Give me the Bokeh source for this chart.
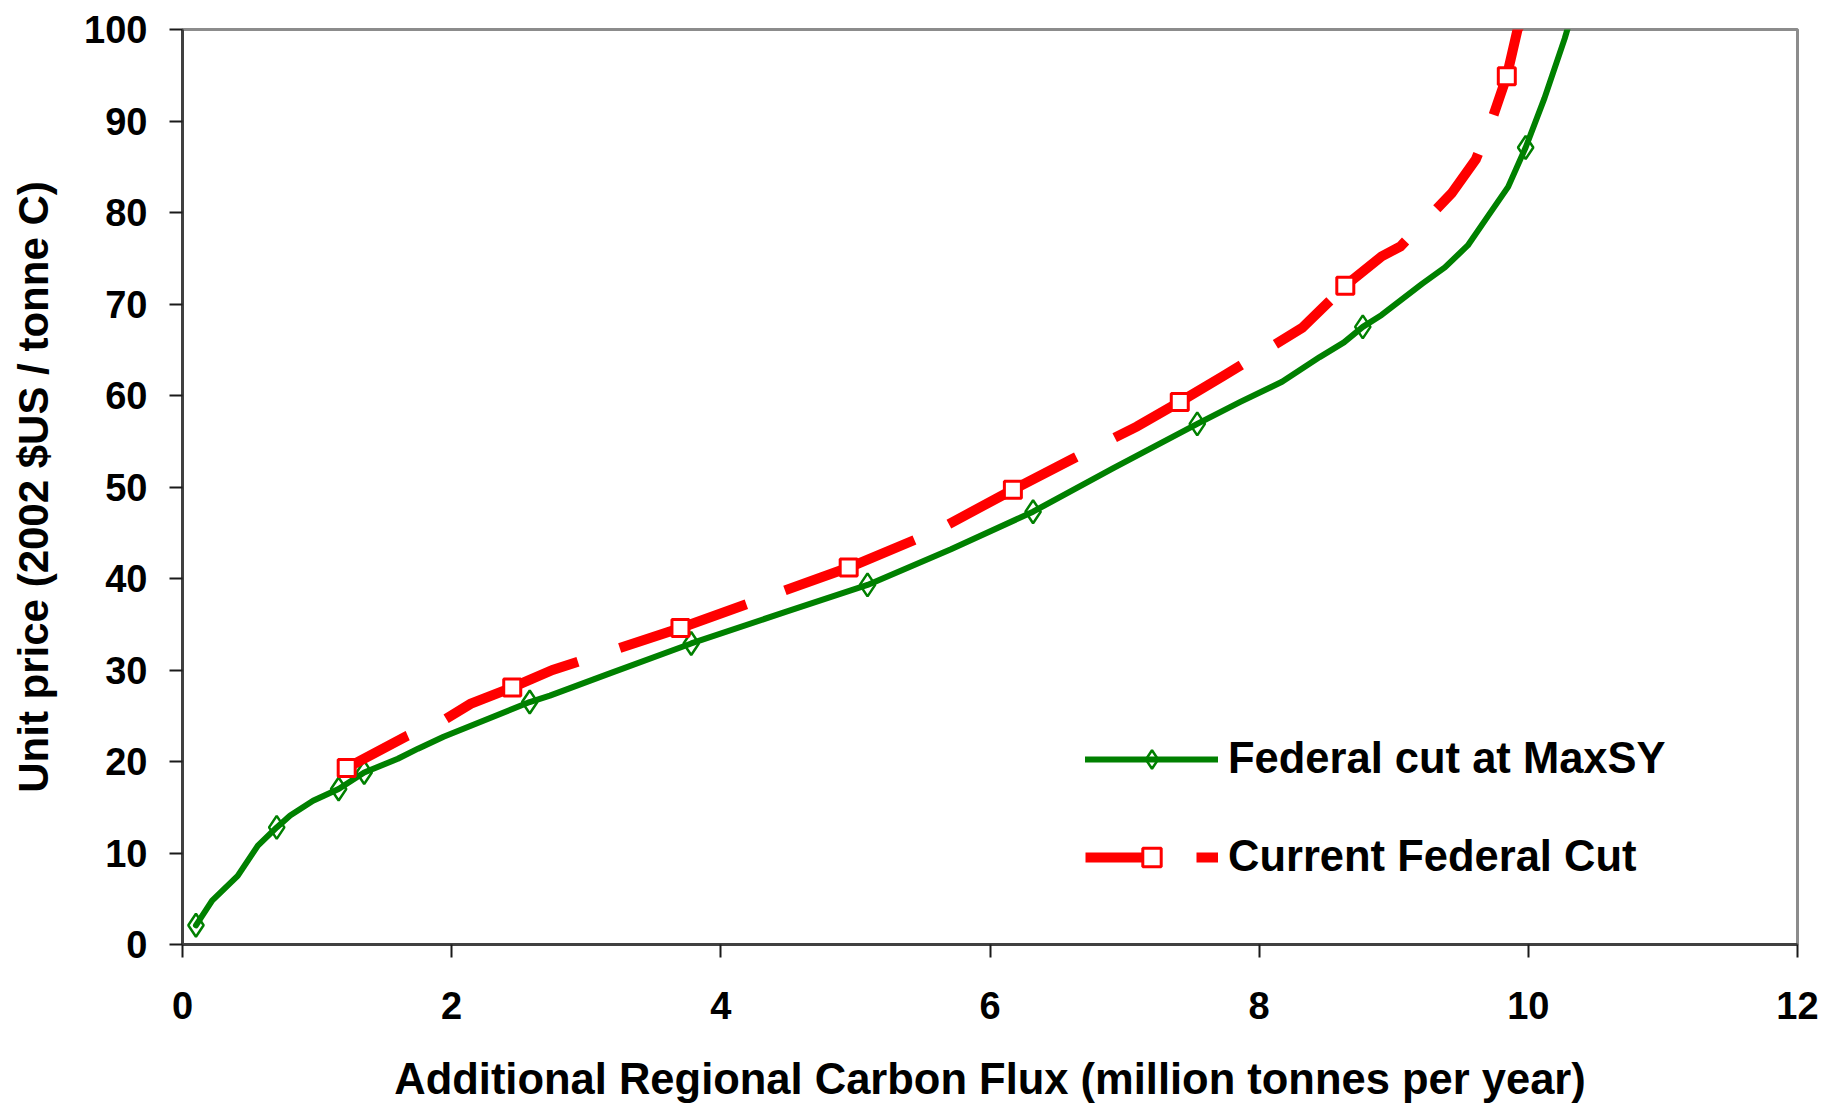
from bokeh.plotting import figure
from bokeh.models import Range1d, FixedTicker, Legend, LegendItem
from bokeh.embed import file_html
from bokeh.resources import INLINE

# ---- data ----
x_ticks = [0, 2, 4, 6, 8, 10, 12]
y_ticks = [0, 10, 20, 30, 40, 50, 60, 70, 80, 90, 100]

maxsy_flux = [0.10, 0.22, 0.41, 0.56, 0.70, 0.80, 0.97, 1.16, 1.35, 1.60, 1.75, 1.94,
              2.58, 2.73, 3.17, 3.78, 4.47, 5.09, 5.71, 6.32, 6.92, 7.54, 7.86, 8.17,
              8.45, 8.63, 8.77, 8.91, 9.21, 9.38, 9.55, 9.70, 9.85, 9.98, 10.12, 10.27, 10.32]
maxsy_price = [2.1, 4.8, 7.5, 10.8, 12.8, 14.1, 15.7, 17.0, 18.8, 20.3, 21.4, 22.7,
               26.5, 27.2, 29.6, 32.9, 36.3, 39.3, 43.2, 47.3, 52.1, 56.9, 59.3, 61.5,
               64.2, 65.8, 67.5, 68.8, 72.2, 74.0, 76.4, 79.6, 82.8, 87.1, 92.5, 99.0, 101.5]
maxsy_mark_flux = [0.10, 0.70, 1.16, 1.35, 2.58, 3.78, 5.09, 6.32, 7.54, 8.77, 9.98]
maxsy_mark_price = [2.1, 12.8, 17.0, 18.8, 26.5, 32.9, 39.3, 47.3, 56.9, 67.5, 87.1]

current_flux = [1.22, 1.67, 1.95, 2.14, 2.45, 2.75, 2.94, 3.70, 4.95, 5.60, 6.17, 6.63,
                7.09, 7.41, 7.73, 8.32, 8.64, 8.91, 9.05, 9.43, 9.61, 9.74, 9.84, 9.92, 9.98]
current_price = [19.3, 22.8, 24.6, 26.3, 28.1, 30.0, 30.9, 34.6, 41.2, 45.2, 49.7, 53.2,
                 56.6, 59.3, 62.1, 67.4, 72.0, 75.2, 76.3, 82.1, 85.8, 90.6, 94.9, 100.0, 101.5]
current_mark_flux = [1.22, 2.45, 3.70, 4.95, 6.17, 7.41, 8.64, 9.84]
current_mark_price = [19.3, 28.1, 34.6, 41.2, 49.7, 59.3, 72.0, 94.9]

label_maxsy = "Federal cut at MaxSY"
label_current = "Current Federal Cut"
x_title = "Additional Regional Carbon Flux (million tonnes per year)"
y_title = "Unit price (2002 $US / tonne C)"

# ---- figure ----
W, H = 1837, 1105
p = figure(width=W, height=H, output_backend="svg", toolbar_location=None,
           x_range=Range1d(0, 12), y_range=Range1d(0, 100),
           min_border_left=182, min_border_right=40, min_border_top=29,
           min_border_bottom=159)
p.background_fill_color = "white"
p.border_fill_color = "white"
p.grid.visible = False
p.outline_line_color = "#8c8c8c"
p.outline_line_width = 3

FONT = "Liberation Sans"
for ax in (p.xaxis[0], p.yaxis[0]):
    ax.axis_line_color = "#404040"
    ax.axis_line_width = 3
    ax.major_tick_line_color = "#1a1a1a"
    ax.major_tick_line_width = 2
    ax.major_tick_in = 0
    ax.major_tick_out = 13
    ax.minor_tick_line_color = None
    ax.major_label_text_font = FONT
    ax.major_label_text_font_style = "bold"
    ax.major_label_text_font_size = "38px"
    ax.major_label_text_color = "black"
    ax.axis_label_text_font = FONT
    ax.axis_label_text_font_style = "bold"
    ax.axis_label_text_color = "black"

p.xaxis.ticker = FixedTicker(ticks=x_ticks)
p.yaxis.ticker = FixedTicker(ticks=y_ticks)
p.xaxis.axis_label = x_title
p.yaxis.axis_label = y_title
p.xaxis.axis_label_text_font_size = "43.5px"
p.yaxis.axis_label_text_font_size = "42px"
p.xaxis.major_label_standoff = 34
p.yaxis.major_label_standoff = 22
p.xaxis.axis_label_standoff = 33
p.yaxis.axis_label_standoff = 24

GREEN = "#008000"
RED = "#ff0000"

g_line = p.line(maxsy_flux, maxsy_price, line_color=GREEN, line_width=6,
                line_join="round", line_cap="round")
g_mark = p.scatter(maxsy_mark_flux, maxsy_mark_price, marker="diamond", size=23,
                   line_color=GREEN, line_width=2.5, fill_alpha=0)

r_line = p.line(current_flux, current_price, line_color=RED, line_width=10,
                line_join="miter", line_cap="butt",
                line_dash="69 42 144 44 134 41 139 38 144 43 146 40 70 28 69 45 69 42 300 40")
r_mark = p.scatter(current_mark_flux, current_mark_price, marker="square", size=17,
                   line_color=RED, line_width=3, fill_color="white")

legend = Legend(items=[LegendItem(label=label_maxsy, renderers=[g_line, g_mark]),
                       LegendItem(label=label_current, renderers=[r_line, r_mark])],
                location=(903, 63), orientation="vertical",
                glyph_width=133, glyph_height=46, label_height=46,
                label_standoff=10, spacing=49, padding=0, margin=0,
                border_line_color=None, background_fill_alpha=0,
                label_text_font=FONT, label_text_font_style="bold",
                label_text_font_size="43.5px", label_text_color="black")
p.add_layout(legend)

open("out.html", "w").write(file_html(p, INLINE))
